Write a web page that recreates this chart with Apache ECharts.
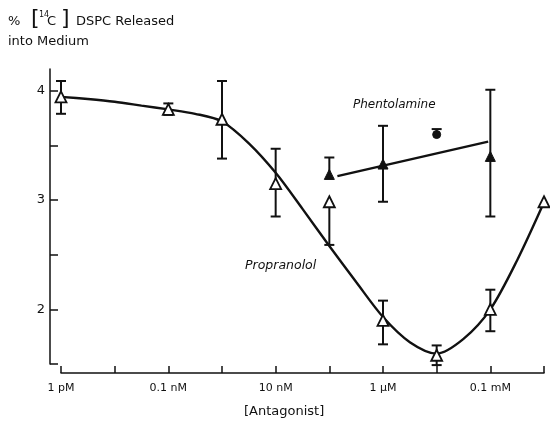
<!DOCTYPE html>
<html>
<head>
<meta charset="utf-8">
<script src="https://cdn.jsdelivr.net/npm/echarts@6/dist/echarts.min.js"></script>
<style>
html,body{margin:0;padding:0;background:#fff;}
#chart{width:550px;height:428px;}
</style>
</head>
<body>
<div id="chart"></div>
<script>
// Concentrations as log10(molar)
const xTickValues = [-12,-11,-10,-9,-8,-7,-6,-5,-4,-3];
const xLabelValues = [-12,-10,-8,-6,-4];
const xLabelTexts = ['1 pM','0.1 nM','10 nM','1 \u00b5M','0.1 mM'];
const yTickValues = [1.5,2,2.5,3,3.5,4];
const yLabelValues = [2,3,4];

// Propranolol (open triangles)
const propConc = [-12,-10,-9,-8,-7,-6,-5,-4,-3];
const propMean = [3.945,3.83,3.74,3.15,2.985,1.90,1.58,2.0,2.985];
const propLow  = [3.79,3.78,3.38,2.85,2.59,1.68,1.49,1.80,null];
const propHigh = [4.09,3.885,4.09,3.47,2.985,2.08,1.67,2.18,null];

// Propranolol drawn curve (every half decade)
const propCurveX = [-12,-11.5,-11,-10.5,-10,-9.5,-9,-8.5,-8,-7.5,-7,-6.5,-6,-5.5,-5,-4.5,-4,-3.5,-3];
const propCurveY = [3.945,3.925,3.90,3.865,3.83,3.79,3.72,3.52,3.25,2.92,2.58,2.25,1.93,1.70,1.595,1.73,2.0,2.45,2.98];

// Phentolamine (filled symbols)
const phenConc = [-7,-6,-5,-4];
const phenMean = [3.235,3.33,3.60,3.40];
const phenLow  = [3.235,2.985,3.60,2.85];
const phenHigh = [3.39,3.68,3.65,4.01];
const phenMarker = ['triangle','triangle','circle','triangle'];

// Phentolamine drawn line
const phenLineX = [-6.85,-4.04];
const phenLineY = [3.22,3.535];

const INK = '#111';
const FONT = '"DejaVu Sans", sans-serif';

function errData(xs, m, lo, hi){
  const out = [];
  for (let i=0;i<xs.length;i++){
    if (lo[i]==null || hi[i]==null) continue;
    out.push([xs[i], lo[i], hi[i], m[i]]);
  }
  return out;
}

function renderErr(params, api){
  const x = api.value(0), lo = api.value(1), hi = api.value(2), m = api.value(3);
  const pLo = api.coord([x, lo]);
  const pHi = api.coord([x, hi]);
  const cap = 5;
  const st = {stroke: INK, lineWidth: 2};
  const ch = [{type:'line', shape:{x1:pLo[0],y1:pLo[1],x2:pHi[0],y2:pHi[1]}, style:st}];
  if (hi > m + 1e-9) ch.push({type:'line', shape:{x1:pHi[0]-cap,y1:pHi[1],x2:pHi[0]+cap,y2:pHi[1]}, style:st});
  if (lo < m - 1e-9) ch.push({type:'line', shape:{x1:pLo[0]-cap,y1:pLo[1],x2:pLo[0]+cap,y2:pLo[1]}, style:st});
  return {type:'group', children: ch};
}

const chart = echarts.init(document.getElementById('chart'), null, {renderer:'canvas'});

const option = {
  backgroundColor: '#fff',
  animation: false,
  grid: {left: 61, right: 6, top: 69, bottom: 64},
  xAxis: {
    type: 'value', min: -12, max: -3, offset: 9,
    axisLine: {lineStyle: {color: INK, width: 1.5}},
    axisTick: {inside: true, length: 7, lineStyle: {color: INK, width: 1.5}, customValues: xTickValues},
    axisLabel: {
      customValues: xLabelValues, margin: 10, color: INK, fontSize: 11, fontFamily: FONT,
      formatter: function(v){ const i = xLabelValues.indexOf(Math.round(v)); return i>=0 ? xLabelTexts[i] : ''; }
    },
    splitLine: {show: false}
  },
  yAxis: {
    type: 'value', min: 1.5, max: 4.2, offset: 11,
    axisLine: {show: true, lineStyle: {color: INK, width: 1.5}},
    axisTick: {show: true, inside: true, length: 8, lineStyle: {color: INK, width: 1.5}, customValues: yTickValues},
    axisLabel: {customValues: yLabelValues, margin: 5, color: INK, fontSize: 13, fontFamily: FONT},
    splitLine: {show: false}
  },
  series: [
    {
      type: 'custom', name: 'propErr', renderItem: renderErr, z: 2,
      data: errData(propConc, propMean, propLow, propHigh)
    },
    {
      type: 'custom', name: 'phenErr', renderItem: renderErr, z: 2,
      data: errData(phenConc, phenMean, phenLow, phenHigh)
    },
    {
      type: 'line', name: 'propCurve', smooth: 0.3, showSymbol: false, z: 3,
      lineStyle: {color: INK, width: 2.4},
      data: propCurveX.map((x,i)=>[x, propCurveY[i]])
    },
    {
      type: 'line', name: 'phenLine', showSymbol: false, z: 3,
      lineStyle: {color: INK, width: 2.4},
      data: phenLineX.map((x,i)=>[x, phenLineY[i]])
    },
    {
      type: 'scatter', name: 'Propranolol', symbol: 'triangle', symbolSize: 11, z: 5,
      itemStyle: {color: '#fff', borderColor: INK, borderWidth: 1.8, opacity: 1},
      data: propConc.map((x,i)=>[x, propMean[i]])
    },
    {
      type: 'scatter', name: 'Phentolamine', z: 5,
      itemStyle: {color: INK, borderColor: INK, borderWidth: 1, opacity: 1},
      data: phenConc.map((x,i)=>({value:[x, phenMean[i]], symbol: phenMarker[i], symbolSize: phenMarker[i]==='circle' ? 8 : 10}))
    }
  ],
  graphic: [
    {type:'text', left: 8, top: 15, style:{text:'%', font:'13px '+FONT, fill: INK}},
    {type:'text', left: 31, top: 8, style:{text:'[', font:'22px '+FONT, fill: INK}},
    {type:'text', left: 39, top: 11, style:{text:'14', font:'8px '+FONT, fill: INK}},
    {type:'text', left: 47, top: 15, style:{text:'C', font:'13px '+FONT, fill: INK}},
    {type:'text', left: 61, top: 8, style:{text:']', font:'22px '+FONT, fill: INK}},
    {type:'text', left: 76, top: 15, style:{text:'DSPC Released', font:'13px '+FONT, fill: INK}},
    {type:'text', left: 8, top: 35, style:{text:'into Medium', font:'13px '+FONT, fill: INK}},
    {type:'text', left: 353, top: 99, style:{text:'Phentolamine', font:'italic 12px '+FONT, fill: INK}},
    {type:'text', left: 245, top: 259, style:{text:'Propranolol', font:'italic 12.5px '+FONT, fill: INK}},
    {type:'text', left: 244, top: 405, style:{text:'[Antagonist]', font:'13px '+FONT, fill: INK}}
  ]
};
chart.setOption(option);
</script>
</body>
</html>
